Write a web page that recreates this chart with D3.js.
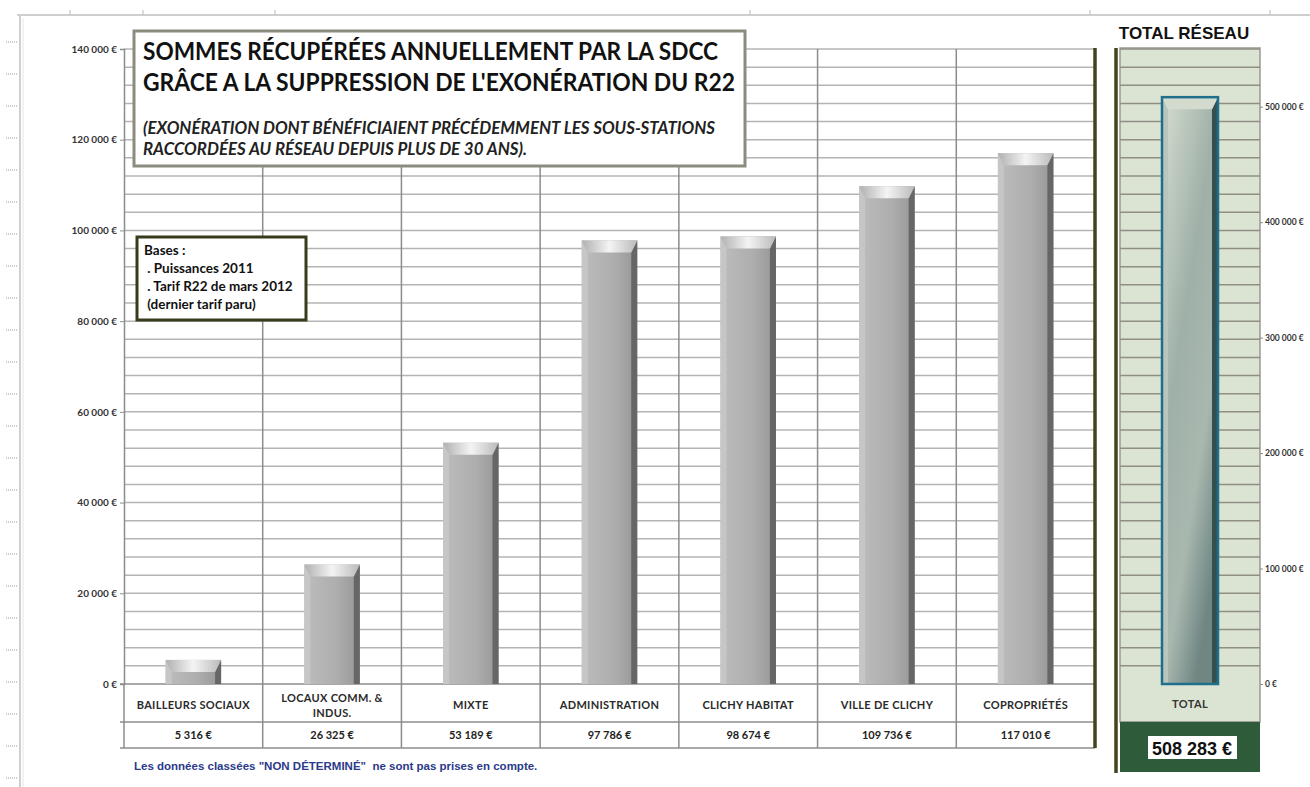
<!DOCTYPE html>
<html>
<head>
<meta charset="utf-8">
<script src="https://cdn.jsdelivr.net/npm/d3@7"></script>
<style>
  body { margin: 0; background: #fff; }
  svg { display: block; }
  .lab { font-family: Lato, "Open Sans", sans-serif; }
</style>
</head>
<body>
<div id="chart"></div>
<script>
// chart data
var categories = ["BAILLEURS SOCIAUX", "LOCAUX COMM. & INDUS.", "MIXTE", "ADMINISTRATION",
                  "CLICHY HABITAT", "VILLE DE CLICHY", "COPROPRIÉTÉS"];
var values = [5316, 26325, 53189, 97786, 98674, 109736, 117010];
var totalLabel = ["TOTAL"];
var totalValue = [508283];
var leftTicks = [0, 20000, 40000, 60000, 80000, 100000, 120000, 140000];
var rightTicks = [0, 100000, 200000, 300000, 400000, 500000];
var titleLines = ["SOMMES RÉCUPÉRÉES ANNUELLEMENT PAR LA SDCC",
                  "GRÂCE A LA SUPPRESSION DE L'EXONÉRATION DU R22"];
var subtitleLines = ["(EXONÉRATION DONT BÉNÉFICIAIENT PRÉCÉDEMMENT LES SOUS-STATIONS",
                     "RACCORDÉES AU RÉSEAU DEPUIS PLUS DE 30 ANS)."];
var basesLines = ["Bases :", " . Puissances 2011", " . Tarif R22 de mars 2012", " (dernier tarif paru)"];
var footnote = "Les données classées \"NON DÉTERMINÉ\"  ne sont pas prises en compte.";

var W = 1310, H = 787;
var fr = d3.formatLocale({decimal: ",", thousands: "\u2009", grouping: [3], currency: ["", " €"]});
var fmt = function(v) { return fr.format(",")(v).replace(/\u2009/g, " ") + " €"; };

var svg = d3.select("#chart").append("svg").attr("width", W).attr("height", H);
var defs = svg.append("defs");

// bar gradients
var g1 = defs.append("linearGradient").attr("id", "barFace").attr("x1", 0).attr("x2", 1);
g1.append("stop").attr("offset", 0).attr("stop-color", "#bdbdbd");
g1.append("stop").attr("offset", 0.6).attr("stop-color", "#adadad");
g1.append("stop").attr("offset", 1).attr("stop-color", "#959595");
var g2 = defs.append("linearGradient").attr("id", "barTop").attr("x1", 0).attr("x2", 1);
g2.append("stop").attr("offset", 0).attr("stop-color", "#b0b0b0");
g2.append("stop").attr("offset", 0.5).attr("stop-color", "#f4f4f4");
g2.append("stop").attr("offset", 1).attr("stop-color", "#bababa");
var g3 = defs.append("linearGradient").attr("id", "totFace")
  .attr("x1", 0).attr("y1", 0).attr("x2", 0.6).attr("y2", 1);
g3.append("stop").attr("offset", 0).attr("stop-color", "#d6ddcf");
g3.append("stop").attr("offset", 0.45).attr("stop-color", "#9fb0a8");
g3.append("stop").attr("offset", 0.75).attr("stop-color", "#a9b8af");
g3.append("stop").attr("offset", 1).attr("stop-color", "#6f8683");

// window frame (spreadsheet look)
var frame = svg.append("g");
frame.append("line").attr("x1", 17).attr("x2", W).attr("y1", 15).attr("y2", 15)
  .attr("stroke", "#cfcfcf").attr("stroke-width", 2);
frame.append("line").attr("x1", 20).attr("x2", 20).attr("y1", 15).attr("y2", H)
  .attr("stroke", "#cfcfcf").attr("stroke-width", 2);
frame.append("line").attr("x1", 23).attr("x2", 23).attr("y1", 18).attr("y2", H)
  .attr("stroke", "#e6e6e6").attr("stroke-width", 1);
frame.selectAll("line.tk").data([70, 143, 275, 750, 1090, 1270]).enter().append("line")
  .attr("x1", function(d) { return d; }).attr("x2", function(d) { return d; })
  .attr("y1", 10).attr("y2", 15).attr("stroke", "#bbb");
frame.selectAll("line.dt").data(d3.range(42, H, 32)).enter().append("line")
  .attr("x1", 6).attr("x2", 18).attr("y1", function(d) { return d; }).attr("y2", function(d) { return d; })
  .attr("stroke", "#999").attr("stroke-dasharray", "1,1");

// scales
var x = d3.scaleBand().domain(categories).range([124, 1095]);
var xb = d3.scaleBand().domain(categories).range([124, 1095]).paddingInner(0.6).paddingOuter(0.3);
var y = d3.scaleLinear().domain([0, 140000]).range([684, 49]);
var xr = d3.scaleBand().domain(totalLabel).range([1120, 1260]).paddingInner(0.6).paddingOuter(0.3);
var y2 = d3.scaleLinear().domain([0, 550000]).range([684, 49]);

// grid
var grid = svg.append("g");
grid.selectAll("line.h").data(d3.range(4000, 140001, 4000)).enter().append("line")
  .attr("x1", 124).attr("x2", 1095)
  .attr("y1", function(d) { return y(d); }).attr("y2", function(d) { return y(d); })
  .attr("stroke", "#b4b4b4").attr("stroke-width", 1.5);
grid.selectAll("line.v").data(categories.slice(1)).enter().append("line")
  .attr("x1", function(d) { return x(d); }).attr("x2", function(d) { return x(d); })
  .attr("y1", y(140000)).attr("y2", 748)
  .attr("stroke", "#8c8c8c").attr("stroke-width", 1.5);

// left axis
var ax = svg.append("g").attr("transform", "translate(124,0)")
  .call(d3.axisLeft(y).tickValues(leftTicks).tickSize(4).tickFormat(fmt));
ax.select(".domain").attr("stroke", "#8c8c8c").attr("stroke-width", 1.5);
ax.selectAll(".tick line").attr("stroke", "#8c8c8c");
ax.selectAll("text").attr("class", "lab").attr("font-size", 10).attr("font-weight", "bold")
  .attr("fill", "#333").attr("dx", 0);

// table below the bars
var tbl = svg.append("g");
[684, 722, 748].forEach(function(yy) {
  tbl.append("line").attr("x1", 120).attr("x2", 1095).attr("y1", yy).attr("y2", yy)
    .attr("stroke", "#8c8c8c").attr("stroke-width", 1.5);
});
tbl.append("line").attr("x1", 124).attr("x2", 124).attr("y1", 684).attr("y2", 748)
  .attr("stroke", "#8c8c8c").attr("stroke-width", 1.5);
var catText = tbl.selectAll("text.cat").data(categories).enter().append("text")
  .attr("class", "lab").attr("text-anchor", "middle").attr("font-size", 11).attr("font-weight", "bold")
  .attr("fill", "#2a2a2a").attr("letter-spacing", 0.3)
  .attr("x", function(d) { return x(d) + x.bandwidth() / 2; });
catText.each(function(d) {
  var parts = d === "LOCAUX COMM. & INDUS." ? ["LOCAUX COMM. &", "INDUS."] : [d];
  var t = d3.select(this);
  parts.forEach(function(p, i) {
    t.append("tspan").attr("x", x(d) + x.bandwidth() / 2)
      .attr("y", 709 - (parts.length - 1) * 7 + i * 15).text(p);
  });
});
tbl.selectAll("text.val").data(values).enter().append("text")
  .attr("class", "lab").attr("text-anchor", "middle").attr("font-size", 11).attr("font-weight", "bold")
  .attr("fill", "#222")
  .attr("x", function(d, i) { return x(categories[i]) + x.bandwidth() / 2; })
  .attr("y", 739).text(fmt);

// bevelled bars
function bevelBar(g, x0, w, top, bottom, faceFill, topFill, rightFill, leftFill) {
  var h = bottom - top;
  var b = Math.min(12, h / 2), s = 6;
  g.append("rect").attr("x", x0).attr("y", top).attr("width", w).attr("height", h).attr("fill", faceFill);
  g.append("path").attr("d", "M" + x0 + "," + top + "L" + (x0 + s) + "," + (top + b) + "L" + (x0 + s) + "," + bottom + "L" + x0 + "," + bottom + "Z")
    .attr("fill", leftFill);
  g.append("path").attr("d", "M" + (x0 + w) + "," + top + "L" + (x0 + w - s) + "," + (top + b) + "L" + (x0 + w - s) + "," + bottom + "L" + (x0 + w) + "," + bottom + "Z")
    .attr("fill", rightFill);
  g.append("path").attr("d", "M" + x0 + "," + top + "L" + (x0 + w) + "," + top + "L" + (x0 + w - s) + "," + (top + b) + "L" + (x0 + s) + "," + (top + b) + "Z")
    .attr("fill", topFill);
}
var bars = svg.append("g");
values.forEach(function(v, i) {
  bevelBar(bars, xb(categories[i]), xb.bandwidth(), y(v), y(0), "url(#barFace)", "url(#barTop)", "#666", "#c6c6c6");
});

// dark olive separators
svg.append("line").attr("x1", 1095).attr("x2", 1095).attr("y1", 48).attr("y2", 748)
  .attr("stroke", "#43431c").attr("stroke-width", 3.5);
svg.append("line").attr("x1", 1116).attr("x2", 1116).attr("y1", 48).attr("y2", 773)
  .attr("stroke", "#43431c").attr("stroke-width", 3.5);

// title box
var tb = svg.append("g");
tb.append("rect").attr("x", 134).attr("y", 31).attr("width", 611).attr("height", 135)
  .attr("fill", "#fff").attr("stroke", "#8c8c7e").attr("stroke-width", 3);
tb.selectAll("text.t").data(titleLines).enter().append("text")
  .attr("class", "lab").attr("x", 143).attr("y", function(d, i) { return 60 + i * 31; })
  .attr("font-size", 25).attr("font-weight", "bold").attr("fill", "#111")
  .attr("textLength", function(d, i) { return i === 0 ? 575 : 592; })
  .attr("lengthAdjust", "spacingAndGlyphs").text(function(d) { return d; });
tb.selectAll("text.s").data(subtitleLines).enter().append("text")
  .attr("class", "lab").attr("x", 143).attr("y", function(d, i) { return 134 + i * 21; })
  .attr("font-size", 16.5).attr("font-weight", "bold").attr("font-style", "italic").attr("fill", "#222")
  .attr("textLength", function(d, i) { return i === 0 ? 572 : 384; })
  .attr("lengthAdjust", "spacingAndGlyphs").text(function(d) { return d; });

// "Bases" note
var bb = svg.append("g");
bb.append("rect").attr("x", 137).attr("y", 237).attr("width", 169).attr("height", 83)
  .attr("fill", "#fff").attr("stroke", "#3a3a1c").attr("stroke-width", 3);
bb.selectAll("text").data(basesLines).enter().append("text")
  .attr("class", "lab").attr("x", 144).attr("y", function(d, i) { return 255 + i * 18; })
  .attr("font-size", 13.5).attr("font-weight", "bold").attr("fill", "#111")
  .attr("xml:space", "preserve").style("white-space", "pre").text(function(d) { return d; });

// footnote
svg.append("text").attr("x", 134).attr("y", 770)
  .attr("font-family", "Liberation Sans, Arial, sans-serif").attr("font-size", 11.5).attr("font-weight", "bold")
  .attr("fill", "#2b3a8a").attr("xml:space", "preserve").style("white-space", "pre").text(footnote);

// total panel
var tp = svg.append("g");
tp.append("text").attr("x", 1184).attr("y", 39).attr("text-anchor", "middle")
  .attr("font-family", "Liberation Sans, Arial, sans-serif").attr("font-size", 17).attr("font-weight", "bold")
  .attr("fill", "#111").text("TOTAL RÉSEAU");
tp.append("rect").attr("x", 1120).attr("y", 48).attr("width", 140).attr("height", 674)
  .attr("fill", "#dbe3d2").attr("stroke", "#9a9a90").attr("stroke-width", 1.5);
tp.selectAll("line.h").data(d3.range(4000, 140001, 4000)).enter().append("line")
  .attr("x1", 1120).attr("x2", 1260)
  .attr("y1", function(d) { return y(d); }).attr("y2", function(d) { return y(d); })
  .attr("stroke", "#8f8f86").attr("stroke-width", 1.5);
tp.append("line").attr("x1", 1120).attr("x2", 1260).attr("y1", 722).attr("y2", 722)
  .attr("stroke", "#9a9a90").attr("stroke-width", 1.5);
tp.append("text").attr("class", "lab").attr("x", 1190).attr("y", 708).attr("text-anchor", "middle")
  .attr("font-size", 11).attr("font-weight", "bold").attr("fill", "#333").attr("letter-spacing", 0.4)
  .text(totalLabel[0]);
var tx0 = xr(totalLabel[0]), tw = xr.bandwidth();
bevelBar(tp, tx0, tw, y2(totalValue[0]), y2(0), "url(#totFace)", "#d3dbcf", "#34504e", "#b9c5bd");
tp.append("rect").attr("x", tx0).attr("y", y2(totalValue[0])).attr("width", tw).attr("height", y2(0) - y2(totalValue[0]))
  .attr("fill", "none").attr("stroke", "#1d6f8c").attr("stroke-width", 2.5);
tp.append("rect").attr("x", 1120).attr("y", 722).attr("width", 140).attr("height", 50)
  .attr("fill", "#2e5c3a");
tp.append("rect").attr("x", 1148).attr("y", 736).attr("width", 89).attr("height", 23).attr("fill", "#fff");
tp.append("text").attr("x", 1192).attr("y", 755).attr("text-anchor", "middle")
  .attr("font-family", "Liberation Sans, Arial, sans-serif").attr("font-size", 18).attr("font-weight", "bold")
  .attr("fill", "#111").text(fmt(totalValue[0]));

// right axis
var ax2 = svg.append("g").attr("transform", "translate(1260,0)")
  .call(d3.axisRight(y2).tickValues(rightTicks).tickSize(3).tickPadding(2).tickFormat(fmt));
ax2.select(".domain").remove();
ax2.selectAll(".tick line").attr("stroke", "#8c8c8c");
ax2.selectAll("text").attr("class", "lab").attr("font-size", 8.5).attr("font-weight", "bold").attr("fill", "#333");
</script>
</body>
</html>
